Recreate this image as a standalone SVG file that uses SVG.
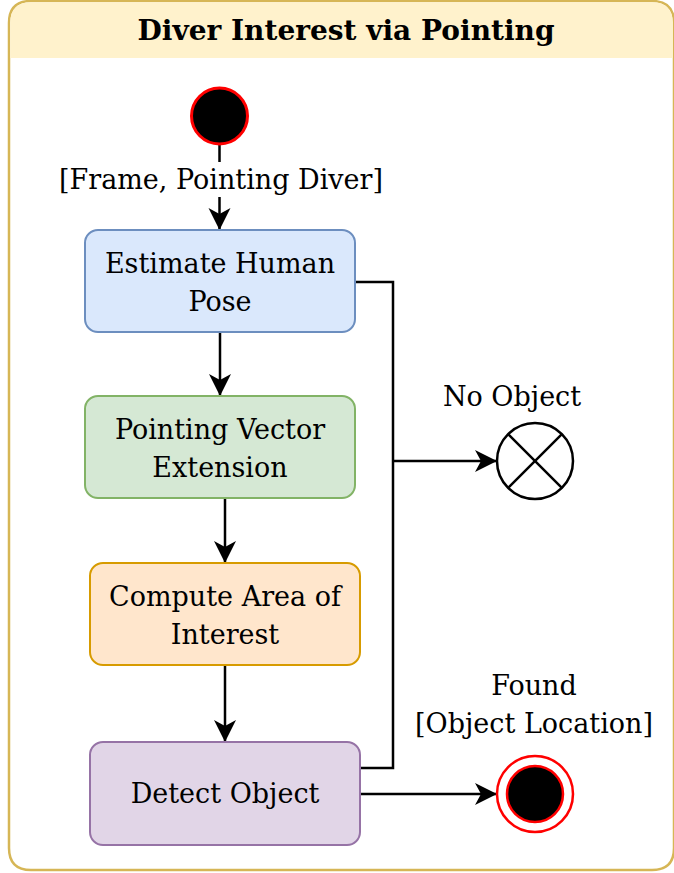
<svg xmlns="http://www.w3.org/2000/svg" width="674" height="873" viewBox="0 0 674 873">
<defs>
<marker id="arr" markerUnits="userSpaceOnUse" markerWidth="24" markerHeight="24" refX="22" refY="11" orient="auto">
<path d="M0,0 L22,11 L0,22 L6,11 Z" fill="#000"/>
</marker>
<style>
.t{font-family:"DejaVu Serif","Liberation Serif",serif;font-size:27px;fill:#000;text-anchor:middle}
.b{stroke-width:2;}
.e{stroke:#000;stroke-width:2.5;fill:none}
</style>
</defs>
<g id="container">
<path d="M30,1 H652 Q674,1 674,23 V848 Q674,870 652,870 H31 Q9,870 9,848 V23 Q9,1 31,1 Z" fill="#fff" stroke="#d6b656" stroke-width="2.5"/>
<path d="M31,2.2 H652 Q672.8,2.2 672.8,23 V58 H10.2 V23 Q10.2,2.2 31,2.2 Z" fill="#fff2cc"/>
<text x="346" y="40" class="t" style="font-weight:bold;font-size:28px">Diver Interest via Pointing</text>
</g>
<g id="edges">
<line x1="219.5" y1="145" x2="219.5" y2="162" class="e"/>
<line x1="219.5" y1="197" x2="219.5" y2="230" class="e" marker-end="url(#arr)"/>
<line x1="220" y1="332" x2="220" y2="396" class="e" marker-end="url(#arr)"/>
<line x1="225" y1="498" x2="225" y2="563" class="e" marker-end="url(#arr)"/>
<line x1="225" y1="665" x2="225" y2="742" class="e" marker-end="url(#arr)"/>
<polyline points="355,282 393,282 393,768 360,768" class="e"/>
<line x1="393" y1="461" x2="497" y2="461" class="e" marker-end="url(#arr)"/>
<line x1="360" y1="794" x2="497" y2="794" class="e" marker-end="url(#arr)"/>
<text x="221" y="189" class="t">[Frame, Pointing Diver]</text>
<text x="512" y="406" class="t">No Object</text>
<text x="534" y="695" class="t">Found</text>
<text x="534" y="733" class="t">[Object Location]</text>
</g>
<g id="start">
<circle cx="219.5" cy="116" r="28" fill="#000" stroke="#ff0000" stroke-width="3"/>
</g>
<g id="estimate">
<rect x="85" y="230" width="270" height="102" rx="13" fill="#dae8fc" stroke="#6c8ebf" class="b"/>
<text x="220" y="273" class="t">Estimate Human</text>
<text x="220" y="311" class="t">Pose</text>
</g>
<g id="pointing">
<rect x="85" y="396" width="270" height="102" rx="13" fill="#d5e8d4" stroke="#82b366" class="b"/>
<text x="220" y="439" class="t">Pointing Vector</text>
<text x="220" y="477" class="t">Extension</text>
</g>
<g id="compute">
<rect x="90" y="563" width="270" height="102" rx="13" fill="#ffe6cc" stroke="#d79b00" class="b"/>
<text x="225" y="606" class="t">Compute Area of</text>
<text x="225" y="644" class="t">Interest</text>
</g>
<g id="detect">
<rect x="90" y="742" width="270" height="103" rx="13" fill="#e1d5e7" stroke="#9673a6" class="b"/>
<text x="225" y="803" class="t">Detect Object</text>
</g>
<g id="noobject">
<circle cx="535" cy="461" r="38" fill="#fff" stroke="#000" stroke-width="2.5"/>
<line x1="508.1" y1="434.1" x2="561.9" y2="487.9" stroke="#000" stroke-width="2.5"/>
<line x1="561.9" y1="434.1" x2="508.1" y2="487.9" stroke="#000" stroke-width="2.5"/>
</g>
<g id="end">
<circle cx="535" cy="794" r="38" fill="#fff" stroke="#ff0000" stroke-width="2.5"/>
<circle cx="535" cy="794" r="28" fill="#000" stroke="#ff0000" stroke-width="2.5"/>
</g>
</svg>
